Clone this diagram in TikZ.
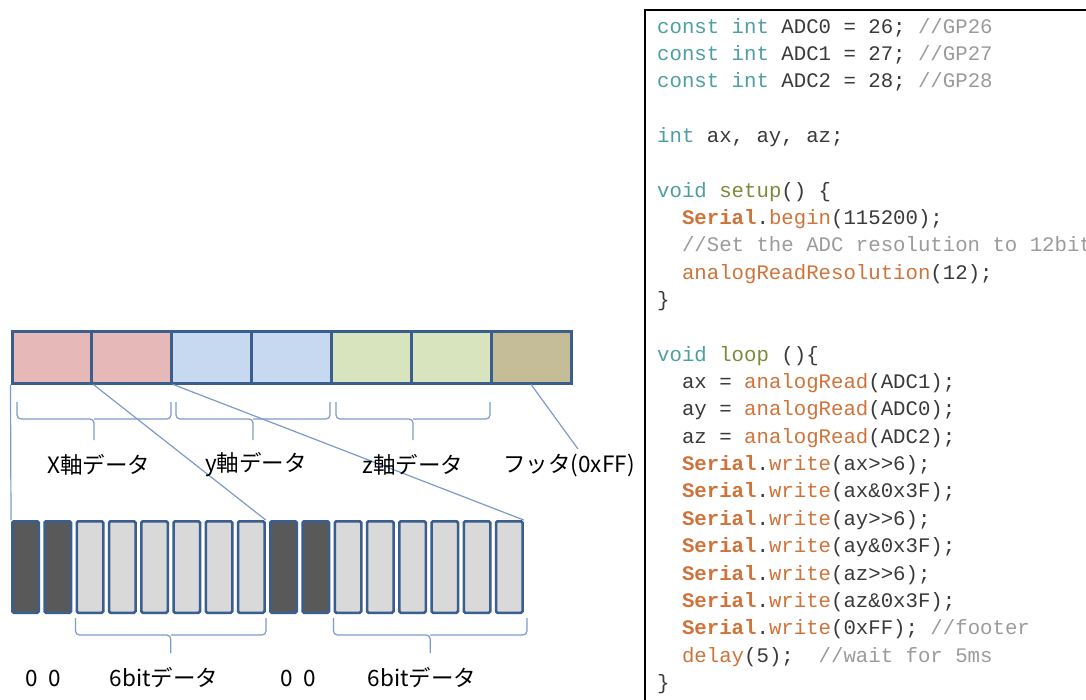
\documentclass[tikz,border=0pt]{standalone}
\usepackage{fontspec}
\setmonofont{Liberation Mono}
\newfontfamily\jpfont{Noto Sans CJK JP}

% cell and connector colours
\definecolor{cellline}{HTML}{3A5F8F}
\definecolor{xfill}{HTML}{E6B9B8}
\definecolor{yfill}{HTML}{C6D9F1}
\definecolor{zfill}{HTML}{D7E4BD}
\definecolor{ffill}{HTML}{C4BD97}
\definecolor{darkbit}{HTML}{595959}
\definecolor{lightbit}{HTML}{D9D9D9}
\definecolor{guide}{HTML}{7B9BCB}
% source listing colours
\definecolor{kwcol}{HTML}{4E9FA3}
\definecolor{fncol}{HTML}{7E8A3A}
\definecolor{libcol}{HTML}{D0733A}
\definecolor{cmcol}{HTML}{9A9C9C}
\definecolor{txcol}{HTML}{3A3A3A}

\newcommand\kwd[1]{\textcolor{kwcol}{#1}}
\newcommand\fnm[1]{\textcolor{fncol}{#1}}
\newcommand\lib[1]{\textcolor{libcol}{#1}}
\newcommand\ser{\textcolor{libcol}{\bfseries Serial}}
\newcommand\cmt[1]{\textcolor{cmcol}{#1}}

\tikzset{
  topcell/.style={draw=cellline, line width=3pt, minimum width=79.86pt,
    minimum height=52pt, inner sep=0pt},
  bitcell/.style={draw=cellline, line width=2.5pt, rounded corners=1.5pt,
    minimum width=26.5pt, minimum height=91.5pt, inner sep=0pt},
  guideline/.style={draw=guide, line width=1.2pt},
  bracepath/.style={draw=guide, line width=1.2pt, rounded corners=4pt},
  lbl/.style={font=\jpfont\fontsize{22.5}{26}\selectfont, text=black, inner sep=0pt},
  codeline/.style={font=\ttfamily\fontsize{20.7}{24}\selectfont, text=txcol,
    anchor=base west, inner sep=0pt},
}

\begin{document}
\begin{tikzpicture}[x=1pt, y=-1pt]
\useasboundingbox (0,0) rectangle (1086,699);
\clip (0,0) rectangle (1086,699);
\fill[white] (0,0) rectangle (1086,699);

% ---- 7-byte packet ----
\foreach \i/\c in {1/xfill,2/xfill,3/yfill,4/yfill,5/zfill,6/zfill,7/ffill}
  \node[topcell, fill=\c] (t\i) at ({12+79.86*(\i-0.5)},357) {};

% ---- 16 bits of one axis pair ----
\foreach \i in {1,...,16}{
  \pgfmathtruncatemacro\k{\i}
  \ifnum\k=1 \def\bc{darkbit}\else
  \ifnum\k=2 \def\bc{darkbit}\else
  \ifnum\k=9 \def\bc{darkbit}\else
  \ifnum\k=10 \def\bc{darkbit}\else
  \def\bc{lightbit}\fi\fi\fi\fi
  \node[bitcell, fill=\bc] (b\i) at ({25.5+32.25*(\i-1)},567) {};
}

% ---- guide lines from bytes to bits ----
\coordinate (fend) at (578,449);
\draw[guideline] (t1.south west) -- (b1.north west);
\draw[guideline] (t1.south east) -- (b8.north east);
\draw[guideline] (t2.south east) -- (b16.north east);
\draw[guideline] (t7.south) -- (fend);

% ---- braces under the packet ----
\foreach \a/\b in {17/171,176/330,336/490}{
  \draw[bracepath] (\a,402) |- ({(\a+\b)/2},419) -- ({(\a+\b)/2},440);
  \draw[bracepath] ({(\a+\b)/2},419) -| (\b,402);
}
% ---- braces under the bits ----
\foreach \a/\b in {75.5/266,333.5/527}{
  \draw[bracepath] (\a,618) |- ({(\a+\b)/2},635) -- ({(\a+\b)/2},653);
  \draw[bracepath] ({(\a+\b)/2},635) -| (\b,618);
}

% ---- labels ----
\node[lbl] (lx) at (99,465) {X軸データ};
\node[lbl] (ly) at (256,465) {y軸データ};
\node[lbl] (lz) at (413,465) {z軸データ};
\node[lbl] (lf) at (569,465) {フッタ(0xFF)};
\node[lbl] (z1) at (43,678) {0\hspace{0.45em}0};
\node[lbl] (d1) at (164,678) {6bitデータ};
\node[lbl] (z2) at (298,678) {0\hspace{0.45em}0};
\node[lbl] (d2) at (422,678) {6bitデータ};

% ---- source listing ----
\draw[line width=2pt, black] (1100,10) -- (645,10) -- (645,720);
\def\xa{657}
\def\xb{681.84}
\def\ls{27.35}
\node[codeline] (l0)  at (\xa,{33+0*\ls})  {\kwd{const} \kwd{int} ADC0 = 26; \cmt{//GP26}};
\node[codeline] (l1)  at (\xa,{33+1*\ls})  {\kwd{const} \kwd{int} ADC1 = 27; \cmt{//GP27}};
\node[codeline] (l2)  at (\xa,{33+2*\ls})  {\kwd{const} \kwd{int} ADC2 = 28; \cmt{//GP28}};
\node[codeline] (l4)  at (\xa,{33+4*\ls})  {\kwd{int} ax, ay, az;};
\node[codeline] (l6)  at (\xa,{33+6*\ls})  {\kwd{void} \fnm{setup}() \{};
\node[codeline] (l7)  at (\xb,{33+7*\ls})  {\ser.\lib{begin}(115200);};
\node[codeline] (l8)  at (\xb,{33+8*\ls})  {\cmt{//Set the ADC resolution to 12bit}};
\node[codeline] (l9)  at (\xb,{33+9*\ls})  {\lib{analogReadResolution}(12);};
\node[codeline] (l10) at (\xa,{33+10*\ls}) {\}};
\node[codeline] (l12) at (\xa,{33+12*\ls}) {\kwd{void} \fnm{loop} ()\{};
\node[codeline] (l13) at (\xb,{33+13*\ls}) {ax = \lib{analogRead}(ADC1);};
\node[codeline] (l14) at (\xb,{33+14*\ls}) {ay = \lib{analogRead}(ADC0);};
\node[codeline] (l15) at (\xb,{33+15*\ls}) {az = \lib{analogRead}(ADC2);};
\node[codeline] (l16) at (\xb,{33+16*\ls}) {\ser.\lib{write}(ax>>6);};
\node[codeline] (l17) at (\xb,{33+17*\ls}) {\ser.\lib{write}(ax\&0x3F);};
\node[codeline] (l18) at (\xb,{33+18*\ls}) {\ser.\lib{write}(ay>>6);};
\node[codeline] (l19) at (\xb,{33+19*\ls}) {\ser.\lib{write}(ay\&0x3F);};
\node[codeline] (l20) at (\xb,{33+20*\ls}) {\ser.\lib{write}(az>>6);};
\node[codeline] (l21) at (\xb,{33+21*\ls}) {\ser.\lib{write}(az\&0x3F);};
\node[codeline] (l22) at (\xb,{33+22*\ls}) {\ser.\lib{write}(0xFF); \cmt{//footer}};
\node[codeline] (l23) at (\xb,{33+23*\ls}) {\lib{delay}(5);\ \ \cmt{//wait for 5ms}};
\node[codeline] (l24) at (\xa,{33+24*\ls}) {\}};
\end{tikzpicture}
\end{document}
